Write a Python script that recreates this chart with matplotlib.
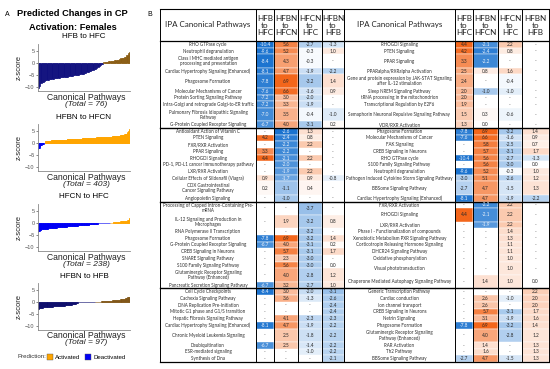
import numpy as np
import matplotlib
matplotlib.use("Agg")
import matplotlib.pyplot as plt
from matplotlib.patches import Rectangle, Patch
import matplotlib.colors as mcolors

# ---------------- Panel A: sorted z-scores of canonical pathways ----------------
# HFB to HFC, all 76 pathways (ascending)
hfb_hfc_z = [-10.4, -9.6, -8.4, -8.1, -7.8, -7.6, -7.2, -7.2, -7.0, -6.7,
             -6.6, -6.5, -6.5, -6.4, -6.3, -6.2, -6.2, -6.1, -6.0, -6.0,
             -5.9, -5.9, -5.8, -5.8, -5.7, -5.6, -5.5, -5.4, -5.3, -5.2,
             -5.1, -5.0, -4.9, -4.8, -4.7, -4.6, -4.5, -4.4, -4.2, -4.1,
             -3.9, -3.7, -3.5, -3.3, -3.1, -2.8, -2.6, -2.3, -2.0, -1.7,
             -1.3, -1.0, -0.6, -0.3,
             0.3, 0.4, 0.5, 0.6, 0.7, 0.8, 0.9, 0.9, 1.0, 1.1, 1.2,
             1.2, 1.3, 1.5, 1.9, 2.0, 2.0, 2.4, 2.5, 3.3, 4.2, 4.4]

# the bigger comparisons are stored as (z-score, number of pathways) runs
hfbn_hfcn_runs = [(-2.6, 1), (-2.4, 1), (-2.2, 2), (-2.1, 1), (-2.0, 1), (-1.9, 1),
                  (-1.7, 1), (-1.1, 1), (-1.0, 1), (-0.9, 2), (-0.8, 2), (-0.7, 2),
                  (-0.6, 2), (-0.5, 2), (-0.4, 2), (-0.3, 3), (-0.2, 2), (-0.1, 2),
                  (0.8, 6), (0.9, 8), (1.0, 14), (1.1, 17), (1.2, 17), (1.3, 17),
                  (1.4, 17), (1.5, 17), (1.6, 17), (1.7, 17), (1.8, 16), (1.9, 16),
                  (2.0, 16), (2.1, 16), (2.2, 15), (2.3, 15), (2.4, 15), (2.5, 14),
                  (2.6, 13), (2.7, 12), (2.8, 11), (2.9, 9), (3.0, 8), (3.1, 7),
                  (3.2, 6), (3.3, 5), (3.4, 4), (3.5, 4), (3.6, 3), (3.7, 3),
                  (3.8, 2), (3.9, 2), (4.0, 2), (4.2, 1), (4.3, 1), (4.5, 1),
                  (4.7, 2), (5.1, 1), (5.2, 1), (5.6, 2), (5.7, 1), (5.8, 1),
                  (6.6, 1), (6.9, 1)]

hfcn_hfc_runs = [(-3.7, 1), (-3.2, 3), (-3.1, 2), (-3.0, 2), (-2.8, 1), (-2.7, 1),
                 (-2.6, 3), (-2.5, 4), (-2.4, 4), (-2.3, 5), (-2.2, 5), (-2.1, 5),
                 (-2.0, 6), (-1.9, 6), (-1.8, 6), (-1.7, 7), (-1.6, 7), (-1.5, 7),
                 (-1.4, 8), (-1.3, 7), (-1.2, 7), (-1.1, 7), (-1.0, 7), (-0.9, 7),
                 (-0.8, 8), (-0.7, 7), (-0.6, 7), (-0.5, 6), (-0.4, 5), (-0.3, 4),
                 (-0.2, 3), (-0.1, 2), (0.0, 26),
                 (0.1, 3), (0.2, 4), (0.3, 5), (0.4, 5), (0.5, 5), (0.6, 5),
                 (0.7, 5), (0.8, 5), (0.9, 4), (1.0, 4), (1.1, 2), (1.3, 1),
                 (1.4, 1), (2.2, 3)]

hfbn_hfb_runs = [(-3.1, 1), (-2.6, 1), (-2.4, 2), (-2.3, 1), (-2.2, 4), (-2.1, 1),
                 (-2.0, 3), (-1.9, 3), (-1.8, 3), (-1.7, 3), (-1.6, 3), (-1.5, 3),
                 (-1.4, 3), (-1.3, 3), (-1.2, 2), (-1.0, 2), (-0.8, 2), (-0.6, 1),
                 (-0.4, 1), (-0.2, 1), (0.0, 17),
                 (0.1, 3), (0.2, 3), (0.3, 3), (0.4, 3), (0.5, 3), (0.6, 3),
                 (0.7, 3), (0.8, 2), (0.9, 2), (1.0, 1), (1.1, 1), (1.2, 1),
                 (1.3, 3), (1.4, 1), (1.6, 1), (1.7, 1), (2.0, 2), (2.2, 1)]


def expand(runs):
    return np.repeat([r[0] for r in runs], [r[1] for r in runs])


comparisons = ["HFB to HFC", "HFBN to HFCN", "HFCN to HFC", "HFBN to HFB"]
zscores = [np.array(hfb_hfc_z), expand(hfbn_hfcn_runs), expand(hfcn_hfc_runs), expand(hfbn_hfb_runs)]
totals = [len(z) for z in zscores]  # 76, 403, 238, 97

# ---------------- Panel B: top pathways table ----------------
left_names = [
    "RHO GTPase cycle", "Neutrophil degranulation",
    "Class I MHC mediated antigen\nprocessing and presentation",
    "Cardiac Hypertrophy Signaling (Enhanced)", "Phagosome Formation",
    "Molecular Mechanisms of Cancer", "Protein Sorting Signaling Pathway",
    "Intra-Golgi and retrograde Golgi-to-ER traffic",
    "Pulmonary Fibrosis Idiopathic Signaling\nPathway",
    "G-Protein Coupled Receptor Signaling",
    "Antioxidant Action of Vitamin C", "PTEN Signaling", "FXR/RXR Activation",
    "PPAR Signaling", "RHOGDI Signaling", "PD-1, PD-L1 cancer immunotherapy pathway",
    "LXR/RXR Activation", "Cellular Effects of Sildenafil (Viagra)",
    "CDX Gastrointestinal\nCancer Signaling Pathway", "Angiopoietin Signaling",
    "Processing of Capped Intron-Containing Pre-\nmRNA",
    "IL-12 Signaling and Production in\nMacrophages",
    "RNA Polymerase II Transcription", "Phagosome Formation",
    "G-Protein Coupled Receptor Signaling", "CREB Signaling in Neurons",
    "SNARE Signaling Pathway", "S100 Family Signaling Pathway",
    "Glutaminergic Receptor Signaling\nPathway (Enhanced)",
    "Pancreatic Secretion Signaling Pathway",
    "Cell Cycle Checkpoints", "Cachexia Signaling Pathway",
    "DNA Replication Pre-Initiation", "Mitotic G1 phase and G1/S transition",
    "Hepatic Fibrosis Signaling Pathway", "Cardiac Hypertrophy Signaling (Enhanced)",
    "Chronic Myeloid Leukemia Signaling", "Deubiquitination",
    "ESR-mediated signaling", "Synthesis of Dna",
]
N = None
left_hfb_hfc = [-10.4, -9.6, -8.4, -8.1, -7.8, -7.6, -7.2, -7.2, -7.0, -6.7,
                N, 4.2, N, 3.3, 4.4, N, N, 0.9, 0.2, N,
                N, N, N, -7.8, -6.7, N, N, N, N, -6.7,
                -8.4, N, N, N, N, -8.1, N, -6.7, N, N]
left_hfbn_hfcn = [5.6, 5.2, 4.3, 4.7, 6.9, 6.6, 3.0, 3.3, 3.5, 4.0,
                  -2.6, -2.4, -2.2, -2.2, -2.1, -2.0, -1.9, -1.7, -1.1, -1.0,
                  N, 1.9, N, 6.9, 4.0, 5.7, 2.3, 5.6, 4.0, 3.2,
                  3.0, 3.6, N, N, 4.1, 4.7, 2.5, 2.5, N, N]
left_hfcn_hfc = [-2.7, -0.3, -0.3, -1.9, -3.2, -1.6, -2.0, -1.9, -0.4, -3.1,
                 1.3, 0.8, 2.2, N, 2.2, N, 2.2, 0.9, 0.4, N,
                 -3.7, -3.2, -3.2, -3.2, -3.1, -3.1, -3.0, -3.0, -2.8, -2.7,
                 -2.0, -1.3, N, N, -2.3, -1.9, -1.8, -1.4, -1.0, N]
left_hfbn_hfb = [-1.3, 1.0, N, -2.2, 1.4, 0.9, N, N, -1.0, 0.2,
                 N, N, N, N, N, N, N, -0.8, N, N,
                 N, 0.8, N, 1.4, 0.2, 1.7, N, 0.0, 1.2, 1.0,
                 -3.1, -2.6, -2.4, -2.4, -2.3, -2.2, -2.2, -2.2, -2.2, -2.1]

right_names = [
    "RHOGDI Signaling", "PTEN Signaling", "PPAR Signaling",
    "PPARalpha/RXRalpha Activation",
    "Gene and protein expression by JAK-STAT Signaling\nafter IL-12 stimulation",
    "Sleep NREM Signaling Pathway", "tRNA processing in the mitochondrion",
    "Transcriptional Regulation by E2F6",
    "Semaphorin Neuronal Repulsive Signaling Pathway", "VDR/RXR Activation",
    "Phagosome Formation", "Molecular Mechanisms of Cancer", "FAK Signaling",
    "CREB Signaling in Neurons", "RHO GTPase cycle", "S100 Family Signaling Pathway",
    "Neutrophil degranulation", "Pathogen Induced Cytokine Storm Signaling Pathway",
    "BBSome Signaling Pathway", "Cardiac Hypertrophy Signaling (Enhanced)",
    "FXR/RXR Activation", "RHOGDI Signaling", "LXR/RXR Activation",
    "Phase I - Functionalization of compounds",
    "Xenobiotic Metabolism PXR Signaling Pathway",
    "Corticotropin Releasing Hormone Signaling", "DHCR24 Signaling Pathway",
    "Oxidative phosphorylation", "Visual phototransduction",
    "Chaperone Mediated Autophagy Signaling Pathway",
    "Generic Transcription Pathway", "Cardiac conduction", "Ion channel transport",
    "CREB Signaling in Neurons", "Netrin Signaling", "Phagosome Formation",
    "Glutaminergic Receptor Signaling\nPathway (Enhanced)", "RAR Activation",
    "Th2 Pathway", "BBSome Signaling Pathway",
]
right_hfb_hfc = [4.4, 4.2, 3.3, 2.5, 2.4, 2.0, 2.0, 1.9, 1.5, 1.3,
                 -7.8, -7.6, N, N, -10.4, N, -9.6, -3.0, -2.7, -8.1,
                 N, 4.4, N, N, N, N, N, N, N, N,
                 N, N, N, N, N, -7.8, N, N, N, -2.7]
right_hfbn_hfcn = [-2.1, -2.4, -2.2, 0.8, N, -1.0, N, N, 0.3, 0.0,
                   6.9, 6.6, 5.8, 5.7, 5.6, 5.6, 5.2, 5.1, 4.7, 4.7,
                   -2.2, -2.1, -1.9, N, N, N, N, N, N, 1.4,
                   N, 2.6, 2.6, 5.7, 3.1, 6.9, 4.0, 1.4, 1.6, 4.7]
right_hfcn_hfc = [2.2, 0.8, N, 1.6, -0.4, -1.0, N, N, -0.6, N,
                  -3.2, -1.6, -2.5, -3.1, -2.7, -3.0, -0.3, -2.6, -1.5, -1.9,
                  2.2, 2.2, 2.2, 1.4, 1.3, 1.1, 1.1, 1.0, 1.0, 1.0,
                  N, -1.0, N, -3.1, -1.9, -3.2, -2.8, N, N, -1.5]
right_hfbn_hfb = [N, N, N, N, N, N, N, N, N, N,
                  1.4, 0.9, 0.7, 1.7, -1.3, 0.0, 1.0, 1.2, 1.3, -2.2,
                  N, N, N, N, N, N, N, N, N, 0.0,
                  2.2, 2.0, 2.0, 1.7, 1.6, 1.4, 1.2, 1.3, 1.3, 1.3]

col_headers = ["HFB\nto\nHFC", "HFBN\nto\nHFCN", "HFCN\nto\nHFC", "HFBN\nto\nHFB"]
rows_per_block = 10

# ---------------- styling / layout ----------------
W, H = 550, 369
sans = "Liberation Sans"
tfont = "Lato"
act_col = ["#8a5c12", "#FFA500", "#FFA500", "#7f5414"]
deact_col = ["#10107e", "#0000F5", "#0000F5", "#0a0a6a"]
blue_dark = np.array(mcolors.to_rgb("#1a72cf"))
orange_dark = np.array(mcolors.to_rgb("#f3661b"))
blue_scale = [8.5, 2.6, 8.2, 7.0]
orange_scale = [4.4, 6.9, 6.3, 7.0]
tall_left = {4, 36}
tall_right = {2, 8, 18, 21, 28, 29}


def fx(x):
    return x / W


def fy(y):
    return 1 - y / H


fig = plt.figure(figsize=(5.5, 3.69), dpi=100)
fig.patch.set_facecolor("white")

fig.text(fx(7), fy(15), "A", fontsize=5, family=sans, ha="center", va="center")
fig.text(fx(72), fy(14), "Predicted Changes in CP", fontsize=6.7, family=sans,
         weight="bold", ha="center", va="center")
fig.text(fx(73), fy(27), "Activation: Females", fontsize=6.7, family=sans,
         weight="bold", ha="center", va="center")

zero_rows = [63, 143, 223, 302]
ymin, ymax = -11.5, 7.8
ppu = 2.4  # pixels per z unit
for k, (name, z) in enumerate(zip(comparisons, zscores)):
    y0 = zero_rows[k]
    top = y0 - ymax * ppu
    bot = y0 - ymin * ppu
    ax = fig.add_axes([fx(38), fy(bot), fx(130) - fx(38), (bot - top) / H])
    cols = [act_col[k] if v > 0 else deact_col[k] for v in z]
    ax.bar(np.arange(len(z)), z, width=1.0, color=cols, edgecolor=cols, linewidth=0.5)
    ax.set_xlim(-0.5, len(z) - 0.5)
    ax.set_ylim(ymin, ymax)
    ax.set_yticks([5, 0, -5, -10])
    ax.set_xticks([])
    for s in ["top", "right"]:
        ax.spines[s].set_visible(False)
    for s in ["left", "bottom"]:
        ax.spines[s].set_color("#888888")
        ax.spines[s].set_linewidth(0.6)
    ax.tick_params(axis="y", labelsize=4, length=1.5, width=0.5, pad=1,
                   colors="#555555", labelcolor="#555555")
    for lab in ax.get_yticklabels():
        lab.set_family(sans)
    ax.set_ylabel("z-score", fontsize=5.5, family=sans, labelpad=1.5, color="#222222")
    fig.text(fx(84), fy(y0 - 26), name, fontsize=5.8, family=sans, ha="center", va="center")
    fig.text(fx(86), fy(y0 + 34), "Canonical Pathways", fontsize=6.2, family=sans,
             ha="center", va="center", color="#222222")
    fig.text(fx(86), fy(y0 + 41), "(Total = %d)" % totals[k], fontsize=6.0, family=sans,
             style="italic", ha="center", va="center", color="#222222")

fig.text(fx(17), fy(357), "Prediction:", fontsize=4.4, family=sans, ha="left",
         va="center", color="#333333")
handles = [Patch(facecolor="#FFA500", edgecolor="#555555", linewidth=0.3),
           Patch(facecolor="#0000F5", edgecolor="#555555", linewidth=0.3)]
fig.legend(handles, ["Activated", "Deactivated"], loc="center left",
           bbox_to_anchor=(fx(47), fy(357)), ncol=2, frameon=False,
           prop={"family": sans, "size": 4.4}, handlelength=1.0, handleheight=1.0,
           columnspacing=0.8, handletextpad=0.3, borderpad=0, borderaxespad=0)

# ---------------- table ----------------
tx = fig.add_axes([0, 0, 1, 1])
tx.set_xlim(0, W)
tx.set_ylim(H, 0)
tx.axis("off")

tab_top, head_bot, tab_bot = 9, 41, 362
left_edges = [160, 256, 274, 298, 322, 344]
right_edges = [344, 455, 473, 498, 522, 549]


def cell_color(v, c):
    if v < 0:
        t, dark = min(1.0, -v / blue_scale[c]), blue_dark
    else:
        t, dark = min(1.0, v / orange_scale[c]), orange_dark
    return (1 - t) * np.ones(3) + t * dark, t


def draw_side(names, columns, edges, tall):
    weights = [2 if ("\n" in n or i in tall) else 1 for i, n in enumerate(names)]
    unit = (tab_bot - head_bot) / sum(weights)
    ys = head_bot + np.concatenate([[0], np.cumsum(weights)]) * unit
    tx.text((edges[0] + edges[1]) / 2, (tab_top + head_bot) / 2, "IPA Canonical Pathways",
            fontsize=5.8, family=tfont, ha="center", va="center", color="#222222")
    for c, hdr in enumerate(col_headers):
        tx.text((edges[c + 1] + edges[c + 2]) / 2, (tab_top + head_bot) / 2 + 0.5, hdr,
                fontsize=5.9, family=tfont, ha="center", va="center", linespacing=1.05,
                color="#222222")
    for i, n in enumerate(names):
        yc = (ys[i] + ys[i + 1]) / 2
        tx.text((edges[0] + edges[1]) / 2, yc, n, fontsize=3.25, family=tfont,
                ha="center", va="center", linespacing=1.0, color="#2a2a2a")
        for c, col in enumerate(columns):
            v = col[i]
            x0, x1 = edges[c + 1], edges[c + 2]
            if v is None:
                tx.text((x0 + x1) / 2, yc, "-", fontsize=3.3, family=tfont,
                        ha="center", va="center", color="#555555")
                continue
            rgb, t = cell_color(v, c)
            tx.add_patch(Rectangle((x0, ys[i]), x1 - x0, ys[i + 1] - ys[i],
                                   facecolor=rgb, edgecolor="white", linewidth=0.3))
            tc = "#eef3fa" if (v < 0 and t > 0.6) else "#2a2a2a"
            tx.text((x0 + x1) / 2, yc, "%.1f" % v, fontsize=3.4, family=tfont,
                    ha="center", va="center", color=tc)
    for e in edges:
        tx.plot([e, e], [tab_top, tab_bot], color="black", lw=0.7)
    return ys


ys_l = draw_side(left_names, [left_hfb_hfc, left_hfbn_hfcn, left_hfcn_hfc, left_hfbn_hfb],
                 left_edges, tall_left)
draw_side(right_names, [right_hfb_hfc, right_hfbn_hfcn, right_hfcn_hfc, right_hfbn_hfb],
          right_edges, tall_right)

x_a, x_b = left_edges[0], right_edges[-1]
tx.plot([x_a, x_b], [tab_top, tab_top], color="black", lw=0.8)
tx.plot([x_a, x_b], [head_bot, head_bot], color="black", lw=0.9)
for b in range(1, len(left_names) // rows_per_block):
    yb = ys_l[b * rows_per_block]
    tx.plot([x_a, x_b], [yb, yb], color="black", lw=1.0)
tx.plot([x_a, x_b], [tab_bot, tab_bot], color="black", lw=0.9)
tx.text(150, 15, "B", fontsize=5, family=sans, ha="center", va="center")

fig.savefig("out.png", dpi=100)
